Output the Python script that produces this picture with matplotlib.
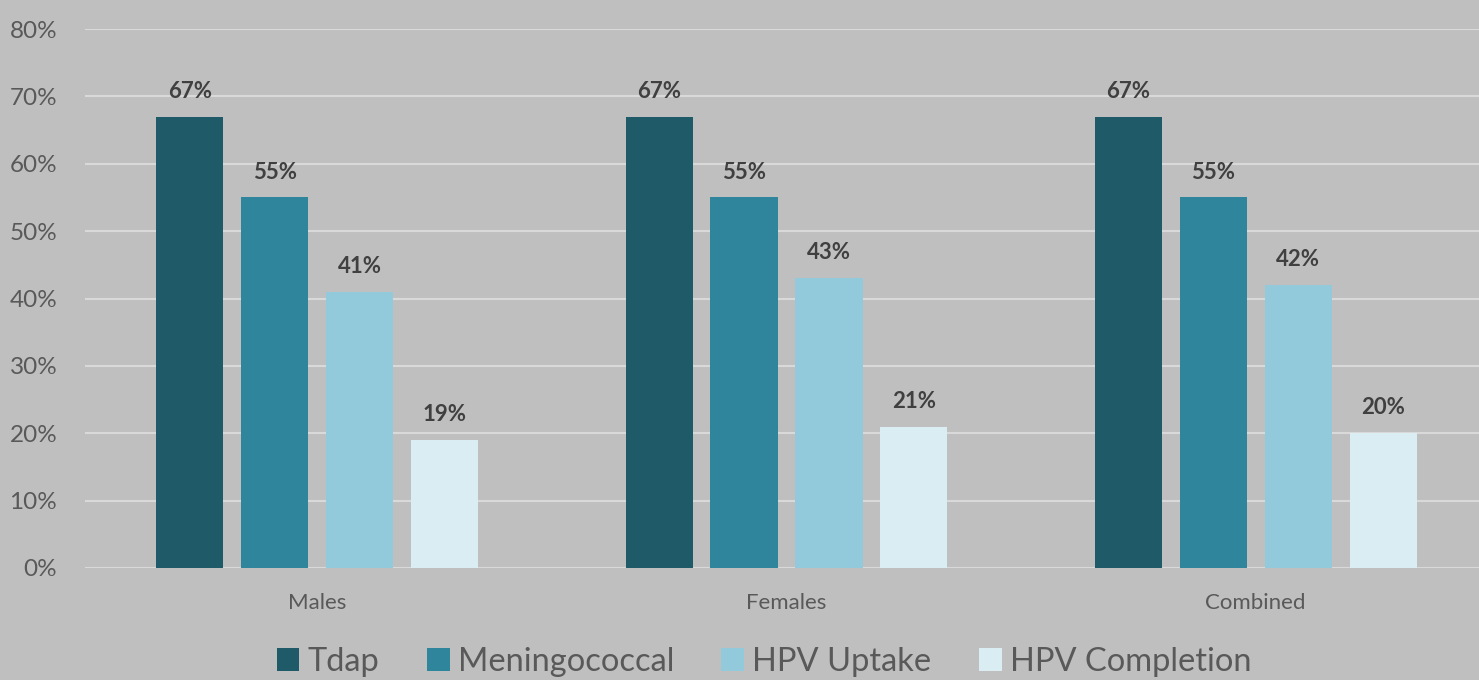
"""Vaccination coverage by sex: grouped bar chart (saved as PNG)."""

import matplotlib

matplotlib.use("Agg")
import matplotlib.pyplot as plt
import numpy as np
from matplotlib.ticker import FuncFormatter

groups = ["Males", "Females", "Combined"]
series = ["Tdap", "Meningococcal", "HPV Uptake", "HPV Completion"]
tdap = [67, 67, 67]
mening = [55, 55, 55]
hpv_up = [41, 43, 42]
hpv_comp = [19, 21, 20]
colors = ["#1F5A68", "#2E859C", "#92CADB", "#DAEDF2"]

plt.rcParams["font.family"] = ["Lato", "DejaVu Sans"]
BG = "#BFBFBF"

fig = plt.figure(figsize=(14.79, 6.8), dpi=100, facecolor=BG)
ax = fig.add_axes([85 / 1479, 112 / 680, 1403 / 1479, 539 / 680])
ax.set_facecolor(BG)

x = np.arange(len(groups))
step = 0.181
width = 0.143
for i, (name, vals) in enumerate(zip(series, [tdap, mening, hpv_up, hpv_comp])):
    pos = x + (i - 1.5) * step
    bars = ax.bar(pos, vals, width, color=colors[i], label=name, zorder=3)
    for b, v in zip(bars, vals):
        ax.text(b.get_x() + b.get_width() / 2, v + 2.2, f"{v}%", ha="center",
                va="bottom", fontsize=16, color="#404040", fontweight="bold")

ax.set_xlim(-0.495, 2.495)
ax.set_ylim(0, 80)
ax.set_yticks(range(0, 81, 10))
ax.yaxis.set_major_formatter(FuncFormatter(lambda v, _: f"{int(v)}%"))
ax.grid(axis="y", color="#D9D9D9", linewidth=1.5, zorder=0)
for s in ["top", "right", "left", "bottom"]:
    ax.spines[s].set_visible(False)
ax.tick_params(axis="both", length=0, colors="#595959")
ax.tick_params(axis="y", labelsize=17.5, pad=20)
ax.set_xticks(x)
ax.set_xticklabels(groups, fontsize=16)
ax.tick_params(axis="x", pad=18)

leg = fig.legend(loc="center", bbox_to_anchor=(764 / 1479, 18 / 680), ncol=4,
                 frameon=False, fontsize=23.5, handlelength=0.7, handleheight=0.7,
                 handletextpad=0.25, columnspacing=1.45, labelcolor="#595959")

fig.savefig("out.png", dpi=100, facecolor=BG)
